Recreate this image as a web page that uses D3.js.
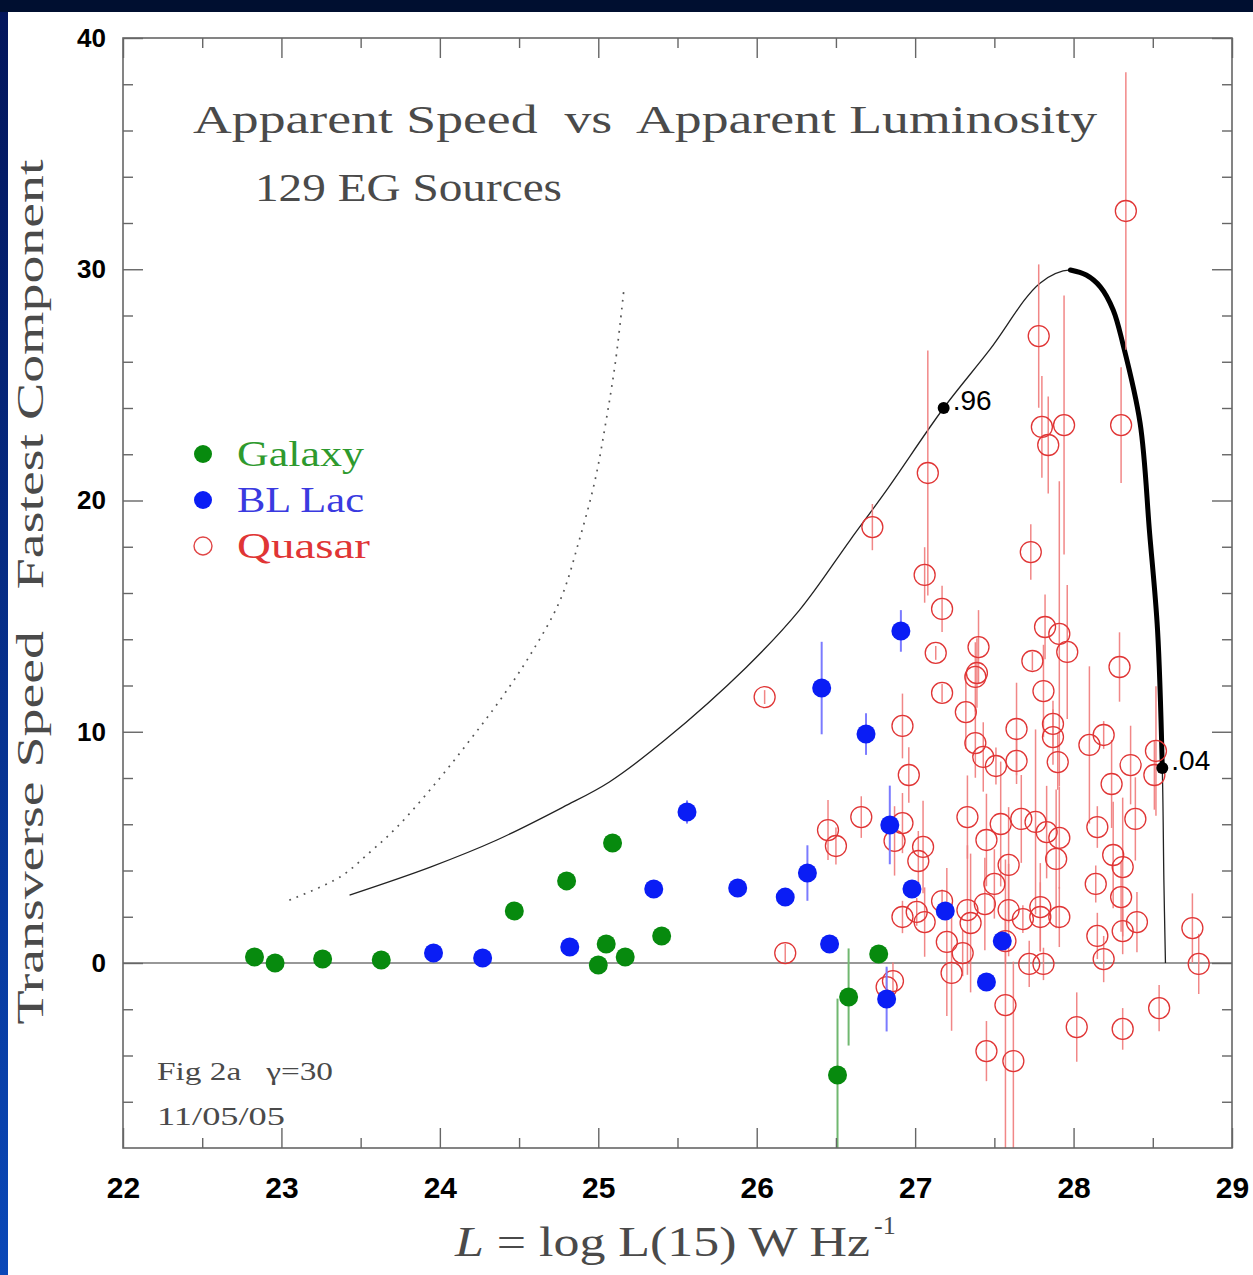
<!DOCTYPE html>
<html><head><meta charset="utf-8">
<script src="https://cdn.jsdelivr.net/npm/d3@7"></script>
<style>body{margin:0;background:#fff;overflow:hidden} svg{display:block}</style>
</head><body>
<svg id="chart" width="1253" height="1275"></svg>
<script>
// ---------- data ----------
const galaxyL    = [22.83, 22.96, 23.26, 23.63, 24.47, 24.80, 25.09, 25.05, 25.00, 25.17, 25.40, 26.77, 26.58, 26.51];
const galaxyBeta = [0.26, 0.00, 0.17, 0.13, 2.25, 3.55, 5.19, 0.82, -0.09, 0.26, 1.17, 0.39, -1.47, -4.84];
const galaxyErr  = [0, 0, 0, 0, 0, 0, 0, 0, 0, 0, 0, 0, 2.1, 3.3];

const blLacL    = [23.96, 24.27, 24.82, 25.35, 25.56, 25.88, 26.18, 26.32, 26.46, 26.41, 26.69, 26.91, 26.84, 26.98, 27.19, 26.82, 27.55, 27.45];
const blLacBeta = [0.43, 0.22, 0.69, 3.20, 6.53, 3.24, 2.85, 3.89, 0.82, 11.89, 9.90, 14.36, 5.97, 3.20, 2.25, -1.56, 0.95, -0.82];
const blLacErr  = [0, 0, 0, 0, 0.5, 0, 0, 1.2, 0, 2.0, 0.9, 0.9, 1.7, 0, 0, 1.4, 0, 0];

const quasarL = [28.33, 27.78, 27.80, 27.84, 27.94, 28.30, 27.08, 27.73, 27.82, 27.91,
                 27.96, 27.40, 27.39, 27.38, 27.74, 28.29, 27.81, 27.32, 27.64, 27.87,
                 27.87, 27.38, 27.43, 27.51, 27.64, 27.90, 28.10, 28.19, 28.36, 28.52,
                 28.51, 28.24, 27.33, 27.54, 27.67, 27.76, 27.83, 27.91, 27.45, 28.15,
                 28.39, 27.89, 28.25, 28.31, 27.59, 27.50, 28.14, 28.30, 28.40, 28.31,
                 27.44, 27.33, 27.35, 27.59, 27.68, 27.79, 27.79, 27.91, 28.15, 28.19,
                 27.72, 27.81, 27.30, 28.75, 28.79, 27.57, 28.02, 28.31, 28.54, 27.45,
                 27.62, 27.57, 26.45, 26.50, 26.66, 26.92, 26.87, 27.05, 27.02, 27.17,
                 27.01, 26.92, 27.06, 27.20, 27.23, 26.18, 26.86, 26.82, 26.73, 27.06,
                 27.17, 27.13, 27.17, 26.05, 26.92, 26.96];
const quasarBeta = [32.52, 27.11, 23.18, 22.40, 23.26, 23.26, 21.19, 17.77, 14.53, 14.23,
                    13.45, 13.66, 12.54, 12.37, 13.06, 12.80, 11.76, 10.85, 10.12, 10.34,
                    9.77, 9.51, 8.91, 8.52, 8.74, 8.69, 9.43, 9.86, 8.56, 9.17,
                    8.13, 7.74, 6.31, 6.01, 6.23, 6.10, 5.66, 5.41, 5.32, 5.88,
                    6.23, 4.50, 4.67, 4.15, 4.24, 3.42, 3.42, 2.85, 1.77, 1.38,
                    2.55, 2.29, 1.73, 2.29, 1.90, 2.42, 1.99, 1.99, 1.17, 0.17,
                    -0.04, -0.04, 0.43, 1.51, -0.04, -1.82, -2.77, -2.85, -1.95, -3.81,
                    -4.24, 0.95, 5.75, 5.06, 6.31, 6.05, 5.28, 5.02, 4.41, 2.68,
                    2.21, 1.99, 1.77, 0.91, -0.43, 0.43, -0.78, -1.04, 18.85, 16.78,
                    15.31, 13.41, 11.68, 11.50, 10.25, 8.13];
const quasarErr = [6.0, 3.1, 2.2, 2.1, 5.6, 2.5, 5.3, 1.2, 1.4, 6.6,
                   2.9, 1.6, 1.5, 1.5, 0.4, 1.5, 2.0, 1.6, 2.0, 1.0,
                   1.2, 1.5, 1.5, 0.8, 1.0, 1.2, 3.4, 0.6, 1.7, 2.8,
                   1.5, 1.9, 1.8, 2.7, 1.9, 4.0, 2.0, 2.2, 2.0, 0.9,
                   1.8, 3.0, 2.3, 3.0, 2.5, 1.5, 0.8, 1.5, 1.3, 1.0,
                   2.0, 2.8, 3.0, 2.0, 0.6, 1.9, 1.5, 1.3, 1.0, 1.0,
                   1.0, 0.7, 1.0, 1.5, 1.3, 6.3, 1.5, 0.9, 1.0, 1.3,
                   4.3, 1.0, 1.3, 0.8, 0.9, 1.3, 1.5, 2.0, 1.3, 0.5,
                   0.6, 0.7, 1.5, 3.2, 2.5, 0.4, 0.8, 0.8, 1.0, 1.2,
                   1.0, 0.3, 0.4, 0.3, 1.4, 1.2];

// model envelope curve (gamma = 30) and the dotted curve
const modelL    = [23.43, 23.94, 24.36, 24.78, 25.07, 25.42, 25.93, 26.27, 26.59, 26.82, 27.18, 27.47, 27.79, 27.98, 28.08, 28.17, 28.25, 28.31, 28.42, 28.48, 28.53, 28.56, 28.57, 28.58];
const modelBeta = [2.94, 4.15, 5.32, 6.75, 7.83, 9.64, 12.76, 15.26, 18.29, 20.45, 24.0, 26.51, 29.41, 29.97, 29.75, 29.23, 28.24, 26.81, 23.35, 18.59, 14.40, 8.43, 3.59, 0];
const thickFrom = 13, thickTo = 21;
const markL = [27.18, 28.56];
const markBeta = [24.0, 8.43];
const markLabel = [".96", ".04"];

const dottedL    = [23.05, 23.37, 23.56, 23.73, 23.98, 24.19, 24.38, 24.57, 24.76, 24.88, 24.98, 25.05, 25.11, 25.16];
const dottedBeta = [2.72, 3.72, 4.80, 5.88, 7.83, 9.64, 11.37, 13.32, 15.70, 18.29, 20.89, 23.48, 26.08, 29.02];

const xMajor = [22, 23, 24, 25, 26, 27, 28, 29];
const xMinor = [22.5, 23.5, 24.5, 25.5, 26.5, 27.5, 28.5];
const yMajor = [0, 10, 20, 30, 40];
const yMinor = [-6, -4, -2, 2, 4, 6, 8, 12, 14, 16, 18, 22, 24, 26, 28, 32, 34, 36, 38];

const legendNames = ["Galaxy", "BL Lac", "Quasar"];

// ---------- drawing ----------
const svg = d3.select("#chart");
const W = 1253, H = 1275;
const L0 = 123, R0 = 1232, T0 = 38, B0 = 1148;
const x = d3.scaleLinear().domain([22, 29]).range([L0, R0]);
const y = d3.scaleLinear().domain([-8, 40]).range([B0, T0]);

// slide background
const defs = svg.append("defs");
const grad = defs.append("linearGradient").attr("id", "side").attr("x1", 0).attr("y1", 0).attr("x2", 0).attr("y2", 1);
grad.append("stop").attr("offset", "0%").attr("stop-color", "#03155a");
grad.append("stop").attr("offset", "100%").attr("stop-color", "#0a48b8");
svg.append("rect").attr("width", W).attr("height", H).attr("fill", "#ffffff");
svg.append("rect").attr("x", 0).attr("y", 0).attr("width", 8).attr("height", H).attr("fill", "url(#side)");
svg.append("rect").attr("x", 0).attr("y", 0).attr("width", W).attr("height", 12).attr("fill", "#000f30");

defs.append("clipPath").attr("id", "plotclip").append("rect")
  .attr("x", L0).attr("y", T0).attr("width", R0 - L0).attr("height", B0 - T0);

const plot = svg.append("g").attr("clip-path", "url(#plotclip)");

// zero line
plot.append("line").attr("x1", L0).attr("x2", R0).attr("y1", y(0)).attr("y2", y(0))
  .attr("stroke", "#333").attr("stroke-width", 1.1);

// dotted curve
const lineGen = d3.line().x(d => x(d[0])).y(d => y(d[1])).curve(d3.curveCatmullRom.alpha(0.5));
const dottedPts = dottedL.map((v, i) => [v, dottedBeta[i]]);
plot.append("path").attr("d", lineGen(dottedPts)).attr("fill", "none")
  .attr("stroke", "#555").attr("stroke-width", 1.7).attr("stroke-dasharray", "1.8,6");

// model curve: thin full curve, thick overlay from the peak to the .04 point
const modelPts = modelL.map((v, i) => [v, modelBeta[i]]);
plot.append("path").attr("d", lineGen(modelPts)).attr("fill", "none")
  .attr("stroke", "#222").attr("stroke-width", 1.3);
plot.append("path").attr("d", lineGen(modelPts.slice(thickFrom, thickTo + 1)))
  .attr("fill", "none").attr("stroke", "#000").attr("stroke-width", 5)
  .attr("stroke-linecap", "round").attr("stroke-linejoin", "round");

// quasars
const quasars = quasarL.map((v, i) => ({L: v, b: quasarBeta[i], e: quasarErr[i]}));
plot.append("g").selectAll("line").data(quasars.filter(d => d.e > 0)).join("line")
  .attr("x1", d => x(d.L)).attr("x2", d => x(d.L))
  .attr("y1", d => y(d.b - d.e)).attr("y2", d => y(d.b + d.e))
  .attr("stroke", "#f07a7a").attr("stroke-width", 1.5).attr("stroke-opacity", 0.9);
plot.append("g").selectAll("circle").data(quasars).join("circle")
  .attr("cx", d => x(d.L)).attr("cy", d => y(d.b)).attr("r", 10.5)
  .attr("fill", "none").attr("stroke", "#e03535").attr("stroke-width", 1.3);

// BL Lacs
const bl = blLacL.map((v, i) => ({L: v, b: blLacBeta[i], e: blLacErr[i]}));
plot.append("g").selectAll("line").data(bl.filter(d => d.e > 0)).join("line")
  .attr("x1", d => x(d.L)).attr("x2", d => x(d.L))
  .attr("y1", d => y(d.b - d.e)).attr("y2", d => y(d.b + d.e))
  .attr("stroke", "#7b7bff").attr("stroke-width", 2);
plot.append("g").selectAll("circle").data(bl).join("circle")
  .attr("cx", d => x(d.L)).attr("cy", d => y(d.b)).attr("r", 9.5)
  .attr("fill", "#0a1df5");

// galaxies
const gal = galaxyL.map((v, i) => ({L: v, b: galaxyBeta[i], e: galaxyErr[i]}));
plot.append("g").selectAll("line").data(gal.filter(d => d.e > 0)).join("line")
  .attr("x1", d => x(d.L)).attr("x2", d => x(d.L))
  .attr("y1", d => y(d.b - d.e)).attr("y2", d => y(d.b + d.e))
  .attr("stroke", "#70b870").attr("stroke-width", 2);
plot.append("g").selectAll("circle").data(gal).join("circle")
  .attr("cx", d => x(d.L)).attr("cy", d => y(d.b)).attr("r", 9.5)
  .attr("fill", "#078a0e");

// marked points on model curve
markL.forEach((v, i) => {
  svg.append("circle").attr("cx", x(v)).attr("cy", y(markBeta[i])).attr("r", 6).attr("fill", "#000");
  svg.append("text").attr("x", x(v) + 9).attr("y", y(markBeta[i]) + 2)
    .attr("font-family", "Liberation Sans, Arial, sans-serif").attr("font-size", 28)
    .attr("fill", "#000").text(markLabel[i]);
});

// frame
svg.append("rect").attr("x", L0).attr("y", T0).attr("width", R0 - L0).attr("height", B0 - T0)
  .attr("fill", "none").attr("stroke", "#666").attr("stroke-width", 1.6);

function styleAxis(g) {
  g.select(".domain").remove();
  g.selectAll(".tick line").attr("stroke", "#666").attr("stroke-width", 1.4);
}
// bottom
svg.append("g").attr("transform", `translate(0,${B0})`)
  .call(d3.axisBottom(x).tickValues(xMajor).tickSize(-20).tickPadding(29).tickFormat(d3.format("d")))
  .call(styleAxis)
  .call(g => g.selectAll("text").attr("font-family", "Liberation Sans, Arial, sans-serif")
    .attr("font-size", 30).attr("font-weight", "bold").attr("fill", "#000"));
svg.append("g").attr("transform", `translate(0,${B0})`)
  .call(d3.axisBottom(x).tickValues(xMinor).tickSize(-10).tickFormat(""))
  .call(styleAxis);
// top
svg.append("g").attr("transform", `translate(0,${T0})`)
  .call(d3.axisTop(x).tickValues(xMajor).tickSize(-20).tickFormat(""))
  .call(styleAxis);
svg.append("g").attr("transform", `translate(0,${T0})`)
  .call(d3.axisTop(x).tickValues(xMinor).tickSize(-10).tickFormat(""))
  .call(styleAxis);
// left
svg.append("g").attr("transform", `translate(${L0},0)`)
  .call(d3.axisLeft(y).tickValues(yMajor).tickSize(-20).tickPadding(17).tickFormat(d3.format("d")))
  .call(styleAxis)
  .call(g => g.selectAll("text").attr("font-family", "Liberation Sans, Arial, sans-serif")
    .attr("font-size", 26).attr("font-weight", "bold").attr("fill", "#000"));
svg.append("g").attr("transform", `translate(${L0},0)`)
  .call(d3.axisLeft(y).tickValues(yMinor).tickSize(-10).tickFormat(""))
  .call(styleAxis);
// right
svg.append("g").attr("transform", `translate(${R0},0)`)
  .call(d3.axisRight(y).tickValues(yMajor).tickSize(-20).tickFormat(""))
  .call(styleAxis);
svg.append("g").attr("transform", `translate(${R0},0)`)
  .call(d3.axisRight(y).tickValues(yMinor).tickSize(-10).tickFormat(""))
  .call(styleAxis);

// texts
const serif = "Liberation Serif, Times New Roman, serif";
function stxt(t, px, py, size, width, color) {
  return svg.append("text").attr("x", px).attr("y", py).attr("font-family", serif)
    .attr("font-size", size).attr("fill", color || "#4a4a4a")
    .attr("textLength", width).attr("lengthAdjust", "spacingAndGlyphs")
    .style("white-space", "pre").text(t);
}
stxt("Apparent Speed  vs  Apparent Luminosity", 193, 133, 41, 904);
stxt("129 EG Sources", 255, 201, 39, 307);
stxt("Fig 2a   \u03b3=30", 157, 1080, 26, 176);
stxt("11/05/05", 157, 1125, 26, 128);

// legend
const legColors = ["#2e9a2e", "#3a3ae0", "#e03535"];
const legY = [454, 500, 546];
legendNames.forEach((n, i) => {
  const c = svg.append("circle").attr("cx", 203).attr("cy", legY[i]).attr("r", 9);
  if (i === 2) c.attr("fill", "none").attr("stroke", "#e04545").attr("stroke-width", 1.4);
  else c.attr("fill", i === 0 ? "#078a0e" : "#0a1df5");
  stxt(n, 237, legY[i] + 12, 35, i === 2 ? 133 : 127, legColors[i]);
});

// y axis label
svg.append("text").attr("transform", "translate(43,592) rotate(-90)")
  .attr("text-anchor", "middle").attr("font-family", serif).attr("font-size", 38)
  .attr("fill", "#4a4a4a").attr("textLength", 865).attr("lengthAdjust", "spacingAndGlyphs")
  .style("white-space", "pre").text("Transverse Speed   Fastest Component");

// x axis label
const xlMain = svg.append("text").attr("x", 455).attr("y", 1256).attr("font-family", serif)
  .attr("font-size", 42).attr("fill", "#4a4a4a").style("white-space", "pre")
  .attr("textLength", 415).attr("lengthAdjust", "spacingAndGlyphs");
xlMain.append("tspan").attr("font-style", "italic").text("L");
xlMain.append("tspan").text(" = log L(15) W Hz");
svg.append("text").attr("x", 874).attr("y", 1234).attr("font-family", serif)
  .attr("font-size", 26).attr("fill", "#4a4a4a").text("-1");
</script>
</body></html>
